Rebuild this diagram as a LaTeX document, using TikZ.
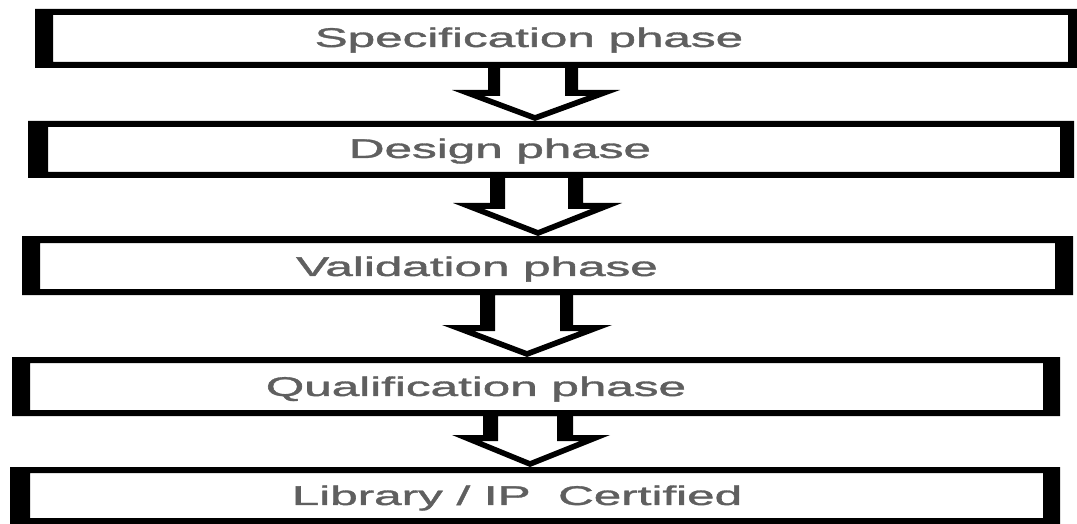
\documentclass[tikz,border=0pt]{standalone}
\usepackage{fontspec}
\usepackage{graphicx}
\setmainfont{Liberation Sans}
\newfontfamily\phasefont{Liberation Sans}[FakeBold=1.2]
\definecolor{txtgray}{RGB}{95,95,95}
\newcommand\phaseframe[5]{%
  \fill[framefill, even odd rule] (#1.south west) rectangle (#1.north east)
    ([xshift=#2pt,yshift=-#4pt]#1.north west) rectangle ([xshift=-#3pt,yshift=#5pt]#1.south east);}
\begin{document}
\begin{tikzpicture}[x=1pt,y=-1pt,
  phasebox/.style={draw=none, inner sep=0pt, outer sep=0pt},
  framefill/.style={fill=black},
  arrowfill/.style={fill=black},
  phasetext/.style={inner sep=0pt, text=txtgray, font=\phasefont\fontsize{27}{30}\selectfont}]
\useasboundingbox (0,0) rectangle (1077,524);
% boxes
\node[phasebox, minimum width=1042pt, minimum height=59pt] (b1) at (556,38.5) {};
\node[phasebox, minimum width=1046pt, minimum height=57pt] (b2) at (551,149.5) {};
\node[phasebox, minimum width=1051pt, minimum height=59pt] (b3) at (547.5,265.5) {};
\node[phasebox, minimum width=1048pt, minimum height=59pt] (b4) at (536,386.5) {};
\node[phasebox, minimum width=1050pt, minimum height=57pt] (b5) at (535,495.5) {};
\phaseframe{b1}{18}{9}{6}{6}
\phaseframe{b2}{20}{14}{6}{6}
\phaseframe{b3}{18}{18}{7}{6}
\phaseframe{b4}{18}{17}{6}{6}
\phaseframe{b5}{20}{17}{6}{6}
% texts
\node[phasetext] (t1) at (529,40) {\scalebox{1.83}[1]{Specification phase}};
\node[phasetext] (t2) at (500,151) {\scalebox{1.83}[1]{Design phase}};
\node[phasetext] (t3) at (477,269) {\scalebox{1.83}[1]{Validation phase}};
\node[phasetext] (t4) at (476,389) {\scalebox{1.83}[1]{Qualification phase}};
\node[phasetext] (t5) at (517,498) {\scalebox{1.83}[1]{Library / IP\ \ Certified}};
% hollow block arrows
\fill[arrowfill, even odd rule]
  (488,0 |- b1.south) -- (488,90) -- (452,90) -- (535,0 |- b2.north) -- (620,90) -- (578,90) -- (578,0 |- b1.south) -- cycle
  (500,0 |- b1.south) -- (500,96) -- (484,96) -- (535,115) -- (587,96) -- (565,96) -- (565,0 |- b1.south) -- cycle;
\fill[arrowfill, even odd rule]
  (490,0 |- b2.south) -- (490,203) -- (453,203) -- (538,0 |- b3.north) -- (622,203) -- (583,203) -- (583,0 |- b2.south) -- cycle
  (505,0 |- b2.south) -- (505,209) -- (484,209) -- (538,230) -- (591,209) -- (568,209) -- (568,0 |- b2.south) -- cycle;
\fill[arrowfill, even odd rule]
  (480,0 |- b3.south) -- (480,325) -- (442,325) -- (527,0 |- b4.north) -- (612,325) -- (573,325) -- (573,0 |- b3.south) -- cycle
  (495,0 |- b3.south) -- (495,331) -- (474,331) -- (527,351) -- (580,331) -- (560,331) -- (560,0 |- b3.south) -- cycle;
\fill[arrowfill, even odd rule]
  (483,0 |- b4.south) -- (483,435) -- (452,435) -- (530,0 |- b5.north) -- (610,435) -- (573,435) -- (573,0 |- b4.south) -- cycle
  (498,0 |- b4.south) -- (498,441) -- (481,441) -- (530,461) -- (580,441) -- (557,441) -- (557,0 |- b4.south) -- cycle;
\end{tikzpicture}
\end{document}
